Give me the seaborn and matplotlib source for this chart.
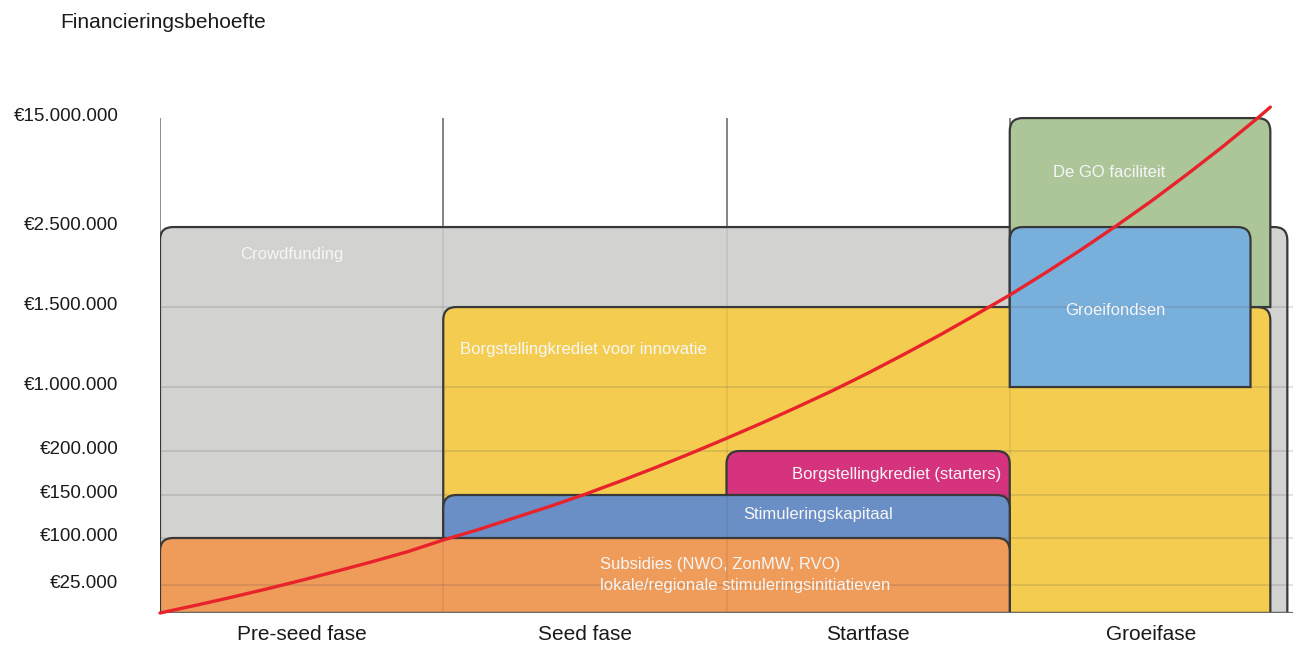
import numpy as np
import matplotlib
matplotlib.use("Agg")
import matplotlib.pyplot as plt
import seaborn as sns
from matplotlib.path import Path
from matplotlib.patches import PathPatch
from matplotlib.transforms import IdentityTransform, ScaledTranslation

sns.set_theme(style="white")
plt.rcParams["font.family"] = ["Liberation Sans", "DejaVu Sans"]

# Funding levels on the vertical axis (euro) and their spacing on the drawn ladder
levels = [0, 25_000, 100_000, 150_000, 200_000, 1_000_000, 1_500_000, 2_500_000, 15_000_000]
level_labels = ["", "€25.000", "€100.000", "€150.000", "€200.000",
                "€1.000.000", "€1.500.000", "€2.500.000", "€15.000.000"]
level_steps = [0, 28, 75, 118, 162, 226, 306, 386, 495]

phases = ["Pre-seed fase", "Seed fase", "Startfase", "Groeifase"]

# Financing instruments: phase range and amount range
instruments = ["Crowdfunding",
               "Borgstellingkrediet voor innovatie",
               "De GO faciliteit",
               "Groeifondsen",
               "Borgstellingkrediet (starters)",
               "Stimuleringskapitaal",
               "Subsidies (NWO, ZonMW, RVO)\nlokale/regionale stimuleringsinitiatieven"]
phase_from = [0.0, 1.0, 3.0, 3.0, 2.0, 1.0, 0.0]
phase_to = [3.98, 3.92, 3.92, 3.85, 3.0, 3.0, 3.0]
amount_from = [0, 0, 1_500_000, 1_000_000, 0, 0, 0]
amount_to = [2_500_000, 1_500_000, 15_000_000, 2_500_000, 200_000, 150_000, 100_000]
box_colors = ["#d2d2d0", "#f4cd50", "#adc699", "#79afdb", "#d6337f", "#6a8fc6", "#ef9b5a"]

# Growing financing need across the phases
need_phase = [0, 0.125, 0.25, 0.375, 0.5, 0.625, 0.75, 0.875,
              1.0, 1.125, 1.25, 1.375, 1.5, 1.625, 1.75, 1.875,
              2.0, 2.125, 2.25, 2.375, 2.5, 2.625, 2.75, 2.875,
              3.0, 3.125, 3.25, 3.375, 3.5, 3.625, 3.75, 3.875, 3.92]
need_amount = [0, 6_800, 13_900, 21_400, 32_500, 47_200, 62_300, 78_300,
               96_800, 109_900, 123_300, 136_600, 150_800, 165_700, 181_300, 197_500,
               358_800, 550_000, 750_000, 956_000, 1_087_500, 1_203_000, 1_322_000, 1_447_000,
               1_650_000, 1_925_000, 2_212_500, 2_615_000, 5_482_000, 8_521_000,
               11_674_000, 15_000_000, 16_261_000]

# Piecewise-linear value ladder, extended linearly past both ends
_lv = np.array(levels, float)
_st = np.array(level_steps, float)
_s_hi = (_st[-1] - _st[-2]) / (_lv[-1] - _lv[-2])
_s_lo = (_st[1] - _st[0]) / (_lv[1] - _lv[0])


def ladder_fwd(v):
    v = np.asarray(v, float)
    out = np.interp(v, _lv, _st)
    out = np.where(v > _lv[-1], _st[-1] + (v - _lv[-1]) * _s_hi, out)
    out = np.where(v < _lv[0], _st[0] + (v - _lv[0]) * _s_lo, out)
    return out


def ladder_inv(p):
    p = np.asarray(p, float)
    out = np.interp(p, _st, _lv)
    out = np.where(p > _st[-1], _lv[-1] + (p - _st[-1]) / _s_hi, out)
    out = np.where(p < _st[0], _lv[0] + (p - _st[0]) / _s_lo, out)
    return out


W, H = 1295, 653
fig = plt.figure(figsize=(W / 100, H / 100), dpi=100)
fig.patch.set_facecolor("white")
ax = fig.add_axes([160 / W, (H - 613) / H, (1293 - 160) / W, 508 / H])
ax.set_yscale("function", functions=(ladder_fwd, ladder_inv))
ax.set_xlim(0, 4)
ax.set_ylim(0, 16_500_000)
ax.set_autoscale_on(False)
for s in ax.spines.values():
    s.set_visible(False)
ax.set_facecolor("none")

# vertical phase separators behind the boxes
ax.vlines([0, 1, 2, 3], 0, 15_000_000, color="#6e6e6e", lw=1.1, zorder=0)


def top_rounded(x0, y0, x1, y1, r):
    verts = [(x0, y0), (x0, y1 - r), (x0, y1), (x0 + r, y1), (x1 - r, y1),
             (x1, y1), (x1, y1 - r), (x1, y0), (x0, y0)]
    codes = [Path.MOVETO, Path.LINETO, Path.CURVE3, Path.CURVE3, Path.LINETO,
             Path.CURVE3, Path.CURVE3, Path.LINETO, Path.CLOSEPOLY]
    return Path(verts, codes)


for i, (xa, xb, ya, yb, c) in enumerate(zip(phase_from, phase_to, amount_from,
                                            amount_to, box_colors)):
    (px0, py0), (px1, py1) = ax.transData.transform([(xa, ya), (xb, yb)])
    patch = PathPatch(top_rounded(px0, py0, px1, py1, 13), facecolor=c,
                      edgecolor="#383838", lw=1.6, transform=IdentityTransform(),
                      zorder=2 + i * 0.1)
    ax.add_artist(patch)

# faint grid over the boxes
ax.hlines(levels[1:7], 0, 4, color="#444444", alpha=0.16, lw=1.3, zorder=4)
ax.vlines([1, 2, 3], 0, 15_000_000, color="#444444", alpha=0.12, lw=1.1, zorder=4)
ax.axhline(0, color="#6a6a6a", lw=1.6, zorder=4)

# instrument labels, offsets in pixels from a box corner
label_side = ["left", "left", "left", "left", "right", "left", "left"]
label_offset = [(80, -27), (17, -42), (43, -54), (55, -83), (-8, -23), (300, -19), (440, -37)]
for i, (ha, (dx, dy)) in enumerate(zip(label_side, label_offset)):
    xa = phase_from[i] if ha == "left" else phase_to[i]
    ax.annotate(instruments[i], xy=(xa, amount_to[i]), xytext=(dx, dy),
                textcoords="offset pixels", ha=ha, va="center", fontsize=12,
                color="#f6f6f6", linespacing=1.55, zorder=7)

sns.lineplot(x=need_phase, y=need_amount, color="#e8232b", lw=2.4, ax=ax,
             sort=False, estimator=None, zorder=8, clip_on=False)

ax.set_yticks(levels[1:])
ax.set_yticklabels(level_labels[1:], fontsize=13.5, color="#1a1a1a")
ax.set_xticks([0.5, 1.5, 2.5, 3.5])
ax.set_xticklabels(phases, fontsize=15, color="#1a1a1a")
ax.tick_params(axis="y", length=0, pad=30)
ax.tick_params(axis="x", length=0, pad=9)
for lab in ax.get_yticklabels():
    lab.set_transform(lab.get_transform() + ScaledTranslation(0, 4 / 100, fig.dpi_scale_trans))
ax.set_xlabel("")
ax.set_ylabel("")

fig.text(60 / W, 1 - 22 / H, "Financieringsbehoefte", fontsize=15,
         ha="left", va="center", color="#1a1a1a")

fig.savefig("out.png", dpi=100)
